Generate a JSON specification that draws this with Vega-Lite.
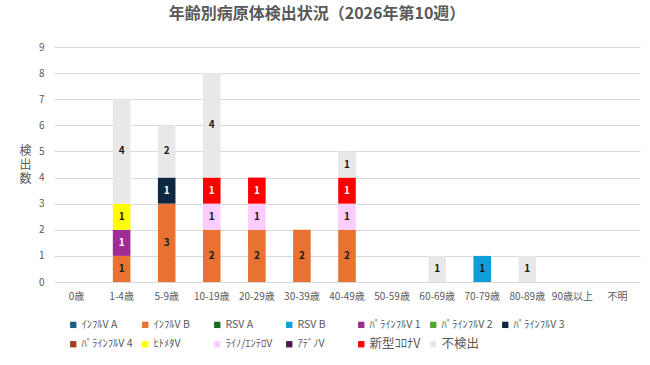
{
  "$schema": "https://vega.github.io/schema/vega-lite/v6.json",
  "width": 586,
  "height": 235,
  "autosize": "none",
  "padding": {"left": 54, "top": 47, "right": 10, "bottom": 83},
  "background": "white",
  "config": {
    "font": "Noto Sans CJK JP",
    "view": {"stroke": null}
  },
  "title": {
    "text": "年齢別病原体検出状況（2026年第10週）",
    "fontSize": 16,
    "fontWeight": "bold",
    "color": "#595959",
    "anchor": "middle",
    "baseline": "middle",
    "offset": 12,
    "dx": -30
  },
  "data": {
    "values": [
      {"age": "1-4歳", "pathogen": "ｲﾝﾌﾙV B", "ord": 2, "count": 1},
      {"age": "1-4歳", "pathogen": "ﾊﾟﾗｲﾝﾌﾙV 1", "ord": 5, "count": 1},
      {"age": "1-4歳", "pathogen": "ﾋﾄﾒﾀV", "ord": 9, "count": 1},
      {"age": "1-4歳", "pathogen": "不検出", "ord": 13, "count": 4},
      {"age": "5-9歳", "pathogen": "ｲﾝﾌﾙV B", "ord": 2, "count": 3},
      {"age": "5-9歳", "pathogen": "ﾊﾟﾗｲﾝﾌﾙV 3", "ord": 7, "count": 1},
      {"age": "5-9歳", "pathogen": "不検出", "ord": 13, "count": 2},
      {"age": "10-19歳", "pathogen": "ｲﾝﾌﾙV B", "ord": 2, "count": 2},
      {"age": "10-19歳", "pathogen": "ﾗｲﾉ/ｴﾝﾃﾛV", "ord": 10, "count": 1},
      {"age": "10-19歳", "pathogen": "新型ｺﾛﾅV", "ord": 12, "count": 1},
      {"age": "10-19歳", "pathogen": "不検出", "ord": 13, "count": 4},
      {"age": "20-29歳", "pathogen": "ｲﾝﾌﾙV B", "ord": 2, "count": 2},
      {"age": "20-29歳", "pathogen": "ﾗｲﾉ/ｴﾝﾃﾛV", "ord": 10, "count": 1},
      {"age": "20-29歳", "pathogen": "新型ｺﾛﾅV", "ord": 12, "count": 1},
      {"age": "30-39歳", "pathogen": "ｲﾝﾌﾙV B", "ord": 2, "count": 2},
      {"age": "40-49歳", "pathogen": "ｲﾝﾌﾙV B", "ord": 2, "count": 2},
      {"age": "40-49歳", "pathogen": "ﾗｲﾉ/ｴﾝﾃﾛV", "ord": 10, "count": 1},
      {"age": "40-49歳", "pathogen": "新型ｺﾛﾅV", "ord": 12, "count": 1},
      {"age": "40-49歳", "pathogen": "不検出", "ord": 13, "count": 1},
      {"age": "60-69歳", "pathogen": "不検出", "ord": 13, "count": 1},
      {"age": "70-79歳", "pathogen": "RSV B", "ord": 4, "count": 1},
      {"age": "80-89歳", "pathogen": "不検出", "ord": 13, "count": 1}
    ]
  },
  "transform": [
    {"stack": "count", "groupby": ["age"], "sort": [{"field": "ord"}], "as": ["y0", "y1"]},
    {"calculate": "(datum.y0 + datum.y1) / 2", "as": "ymid"}
  ],
  "encoding": {
    "x": {
      "field": "age",
      "type": "nominal",
      "sort": null,
      "scale": {
        "domain": ["0歳", "1-4歳", "5-9歳", "10-19歳", "20-29歳", "30-39歳", "40-49歳", "50-59歳", "60-69歳", "70-79歳", "80-89歳", "90歳以上", "不明"],
        "paddingInner": 0.61,
        "paddingOuter": 0.305
      },
      "axis": {
        "title": null,
        "labelAngle": 0,
        "labelFontSize": 10,
        "labelColor": "#595959",
        "labelPadding": 9,
        "domain": false,
        "ticks": false,
        "grid": false
      }
    }
  },
  "layer": [
    {
      "mark": {"type": "bar"},
      "encoding": {
        "y": {
          "field": "y0",
          "type": "quantitative",
          "scale": {"domain": [0, 9], "nice": false},
          "axis": {
            "title": ["検", "出", "数"],
            "titleAngle": 0,
            "titleFontSize": 12,
            "titleFontWeight": "normal",
            "titleColor": "#595959",
            "titleAlign": "center",
            "titleBaseline": "middle",
            "titleLineHeight": 14,
            "titleX": -29,
            "titleY": 103,
            "values": [0, 1, 2, 3, 4, 5, 6, 7, 8, 9],
            "labelOverlap": false,
            "labelFontSize": 10,
            "labelColor": "#595959",
            "labelPadding": 10,
            "domain": false,
            "ticks": false,
            "gridColor": "#D9D9D9",
            "gridWidth": 1
          }
        },
        "y2": {"field": "y1"},
        "color": {
          "field": "pathogen",
          "type": "nominal",
          "scale": {
            "domain": ["ｲﾝﾌﾙV A", "ｲﾝﾌﾙV B", "RSV A", "RSV B", "ﾊﾟﾗｲﾝﾌﾙV 1", "ﾊﾟﾗｲﾝﾌﾙV 2", "ﾊﾟﾗｲﾝﾌﾙV 3", "ﾊﾟﾗｲﾝﾌﾙV 4", "ﾋﾄﾒﾀV", "ﾗｲﾉ/ｴﾝﾃﾛV", "ｱﾃﾞﾉV", "新型ｺﾛﾅV", "不検出"],
            "range": ["#156082", "#E97132", "#196B24", "#0F9ED5", "#A02B93", "#4EA72E", "#0E2841", "#A0431B", "#FFFF00", "#FFCCFF", "#501549", "#FF0000", "#E8E8E8"]
          },
          "legend": {
            "title": null,
            "orient": "none",
            "legendX": 14,
            "legendY": 272,
            "direction": "horizontal",
            "columns": 7,
            "gridAlign": "all",
            "columnPadding": 7,
            "rowPadding": 7,
            "symbolType": "square",
            "symbolSize": 40,
            "symbolStrokeWidth": 0,
            "labelFontSize": 10.5,
            "labelColor": "#595959",
            "labelOffset": 3,
            "labelLimit": 200,
            "encode": {
              "labels": {
                "update": {
                  "fontSize": {"signal": "datum.label === '不検出' || datum.label === '新型ｺﾛﾅV' ? 12.5 : 10.5"}
                }
              }
            }
          }
        }
      }
    },
    {
      "mark": {"type": "text", "fontSize": 10, "fontWeight": "bold", "baseline": "middle"},
      "encoding": {
        "y": {
          "field": "ymid",
          "type": "quantitative",
          "axis": {
            "title": ["検", "出", "数"],
            "titleAngle": 0,
            "titleFontSize": 12,
            "titleFontWeight": "normal",
            "titleColor": "#595959",
            "titleAlign": "center",
            "titleBaseline": "middle",
            "titleLineHeight": 14,
            "titleX": -29,
            "titleY": 103,
            "values": [0, 1, 2, 3, 4, 5, 6, 7, 8, 9],
            "labelOverlap": false,
            "labelFontSize": 10,
            "labelColor": "#595959",
            "labelPadding": 10,
            "domain": false,
            "ticks": false,
            "gridColor": "#D9D9D9",
            "gridWidth": 1
          }
        },
        "text": {"field": "count", "type": "quantitative"},
        "color": {
          "condition": {
            "test": "datum.pathogen === '新型ｺﾛﾅV' || datum.pathogen === 'ﾊﾟﾗｲﾝﾌﾙV 3' || datum.pathogen === 'ﾊﾟﾗｲﾝﾌﾙV 1'",
            "value": "white"
          },
          "value": "#1a1a1a"
        }
      }
    }
  ]
}
